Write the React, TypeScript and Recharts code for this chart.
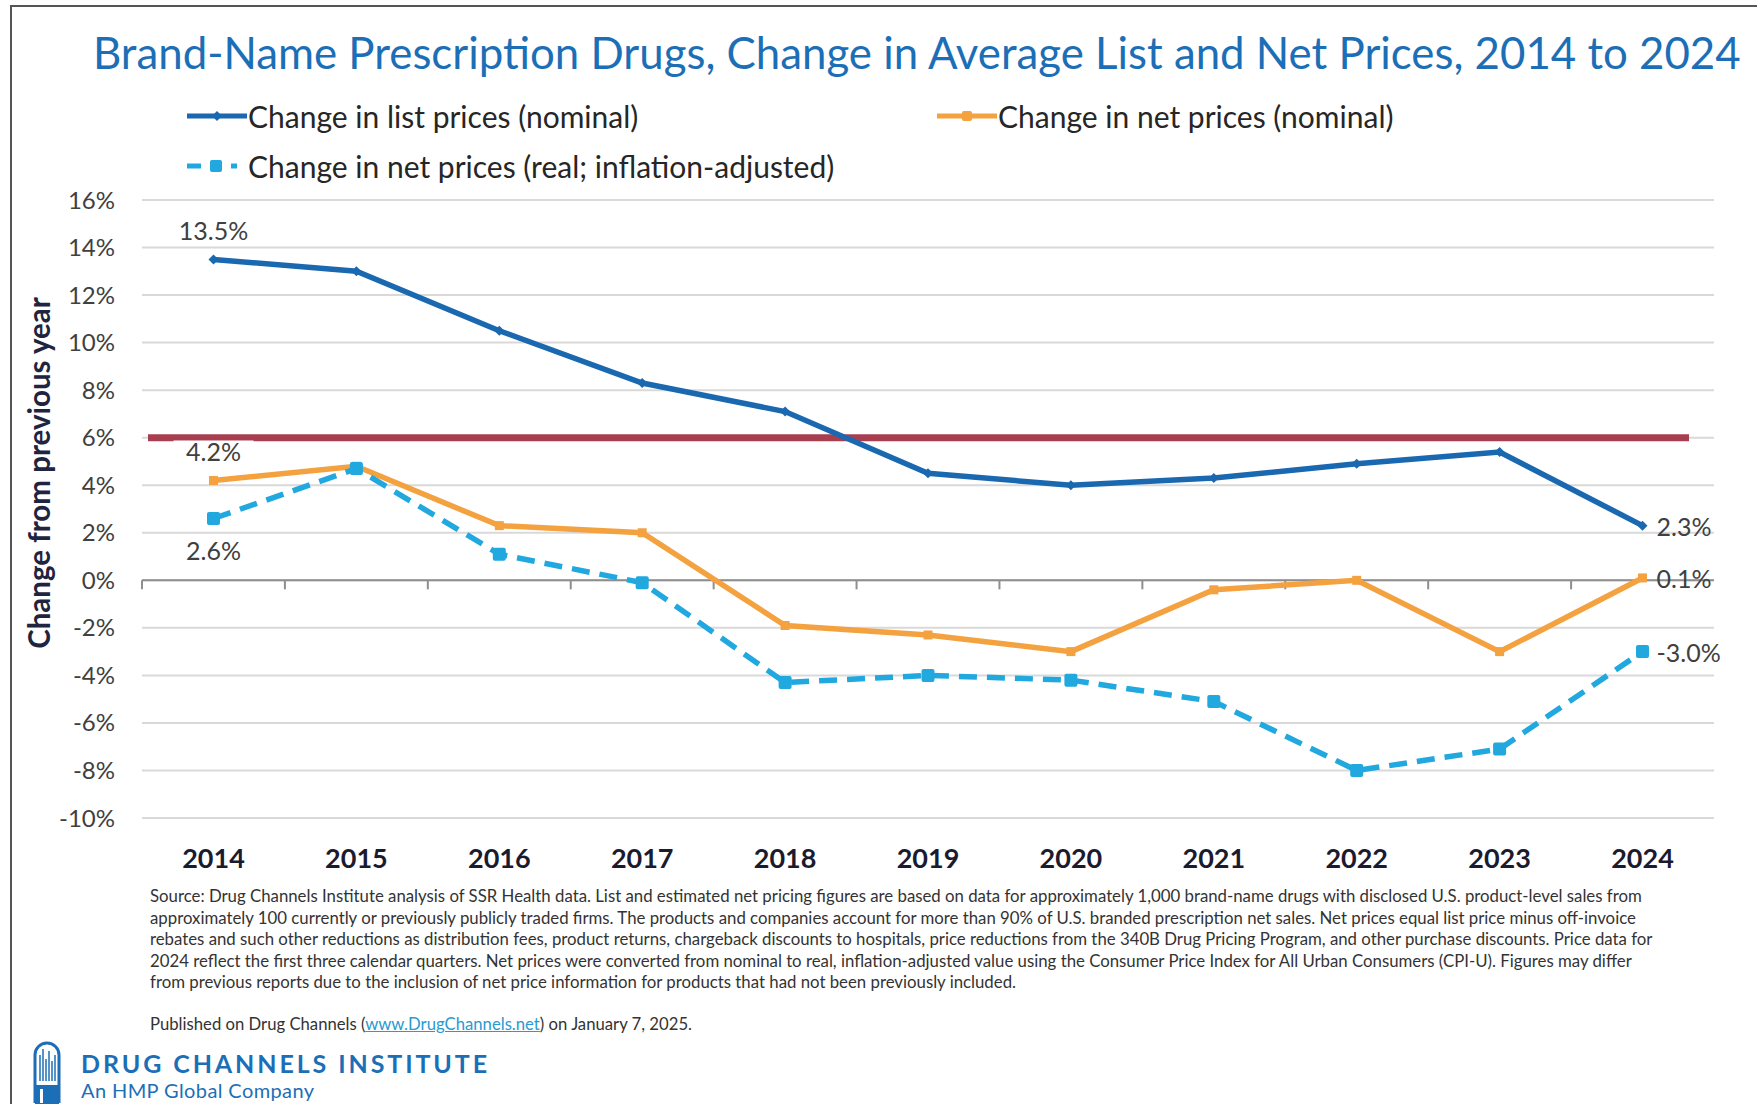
import React from 'react';
import { LineChart, Line, XAxis, YAxis, CartesianGrid, ReferenceLine, Legend, LabelList } from 'recharts';

// values (percent change from previous year)
const years = ['2014', '2015', '2016', '2017', '2018', '2019', '2020', '2021', '2022', '2023', '2024'];
const listPrices = [13.5, 13.0, 10.5, 8.3, 7.1, 4.5, 4.0, 4.3, 4.9, 5.4, 2.3];
const netNominal = [4.2, 4.8, 2.3, 2.0, -1.9, -2.3, -3.0, -0.4, 0.0, -3.0, 0.1];
const netReal = [2.6, 4.7, 1.1, -0.1, -4.3, -4.0, -4.2, -5.1, -8.0, -7.1, -3.0];
const yTicks = [-10, -8, -6, -4, -2, 0, 2, 4, 6, 8, 10, 12, 14, 16];
const targetLine = 6;

const seriesNames = {
  list: 'Change in list prices (nominal)',
  netNominal: 'Change in net prices (nominal)',
  netReal: 'Change in net prices (real; inflation-adjusted)',
};

const sourceLines = [
  'Source: Drug Channels Institute analysis of SSR Health data. List and estimated net pricing figures are based on data for approximately 1,000 brand-name drugs with disclosed U.S. product-level sales from',
  'approximately 100 currently or previously publicly traded firms. The products and companies account for more than 90% of U.S. branded prescription net sales. Net prices equal list price minus off-invoice',
  'rebates and such other reductions as distribution fees, product returns, chargeback discounts to hospitals, price reductions from the 340B Drug Pricing Program, and other purchase discounts. Price data for',
  '2024 reflect the first three calendar quarters. Net prices were converted from nominal to real, inflation-adjusted value using the Consumer Price Index for All Urban Consumers (CPI-U). Figures may differ',
  'from previous reports due to the inclusion of net price information for products that had not been previously included.',
];

const data = years.map((year, i) => ({
  year,
  list: listPrices[i],
  netNominal: netNominal[i],
  netReal: netReal[i],
}));

const FONT = 'Lato, "Open Sans", sans-serif';
const BLUE = '#1A68B0';
const ORANGE = '#F4A13F';
const LIGHT_BLUE = '#20A8DF';
const RED = '#A83F50';
const TITLE_BLUE = '#1C6FB6';

// plot area spans 1572px for 11 categories; half a category of padding on each side
const HALF_BAND = 71.5;

const diamondDot = (p: any) => {
  const { cx, cy, index } = p;
  const s = 5;
  return <polygon key={`dl-${index}`} points={`${cx},${cy - s} ${cx + s},${cy} ${cx},${cy + s} ${cx - s},${cy}`} fill={BLUE} />;
};
const orangeDot = (p: any) => <rect key={`dn-${p.index}`} x={p.cx - 4.5} y={p.cy - 4.5} width={9} height={9} fill={ORANGE} />;
const realDot = (p: any) => <rect key={`dr-${p.index}`} x={p.cx - 6.5} y={p.cy - 6.5} width={13} height={13} rx={2} fill={LIGHT_BLUE} />;

// first and last value labels, like the original
const endLabel = (firstPos: 'above' | 'below') => (props: any) => {
  const { index, value } = props;
  const x = props.x ?? props.viewBox?.x;
  const y = props.y ?? props.viewBox?.y;
  const last = years.length - 1;
  if (index !== 0 && index !== last) return null;
  const text = `${Number(value).toFixed(1)}%`;
  const style = { fontFamily: FONT, fontSize: 25, fill: '#404040' };
  if (index === 0) {
    const cy = firstPos === 'above' ? y - 29 : y + 31;
    return (
      <g key={`lbl-${index}`}>
        <rect x={x - 40} y={cy - 11} width={80} height={23} fill="#fff" />
        <text x={x} y={cy} textAnchor="middle" dominantBaseline="central" style={style}>{text}</text>
      </g>
    );
  }
  return (
    <text key={`lbl-${index}`} x={x + 14} y={y} dominantBaseline="central" style={style}>{text}</text>
  );
};

const ZeroAxis = (props: any) => {
  const { x1, x2, y1 } = props;
  const left = Math.min(x1, x2);
  const right = Math.max(x1, x2);
  const step = (right - left) / years.length;
  return (
    <g>
      <line x1={left} x2={right} y1={y1} y2={y1} stroke="#8E8E8E" strokeWidth={2} />
      {years.map((_, i) => (
        <line key={i} x1={left + i * step} x2={left + i * step} y1={y1} y2={y1 + 9} stroke="#8E8E8E" strokeWidth={2} />
      ))}
    </g>
  );
};

const TargetLine = (props: any) => {
  const { x1, x2, y1 } = props;
  const left = Math.min(x1, x2);
  const right = Math.max(x1, x2);
  return <line x1={left + 6} x2={right - 25} y1={y1} y2={y1} stroke={RED} strokeWidth={7} />;
};

const legendItems = [
  { key: 'list', name: seriesNames.list },
  { key: 'netNominal', name: seriesNames.netNominal },
  { key: 'netReal', name: seriesNames.netReal },
];

const LegendIcon = ({ kind }: { kind: string }) => {
  if (kind === 'list') {
    return (
      <svg width={60} height={20}>
        <line x1={0} x2={60} y1={10} y2={10} stroke={BLUE} strokeWidth={5} />
        <polygon points="30,5 35,10 30,15 25,10" fill={BLUE} />
      </svg>
    );
  }
  if (kind === 'netNominal') {
    return (
      <svg width={60} height={20}>
        <line x1={0} x2={60} y1={10} y2={10} stroke={ORANGE} strokeWidth={5} />
        <rect x={25} y={5} width={10} height={10} rx={2} fill={ORANGE} />
      </svg>
    );
  }
  return (
    <svg width={60} height={20}>
      <line x1={0} x2={14} y1={10} y2={10} stroke={LIGHT_BLUE} strokeWidth={5} />
      <rect x={23} y={4} width={12} height={12} rx={2} fill={LIGHT_BLUE} />
      <line x1={44} x2={50} y1={10} y2={10} stroke={LIGHT_BLUE} strokeWidth={5} />
    </svg>
  );
};

const ChartLegend = () => (
  <div
    style={{
      display: 'grid',
      gridTemplateColumns: '750px auto',
      rowGap: 16,
      fontFamily: FONT,
      fontSize: 30,
      lineHeight: '34px',
      color: '#262626',
    }}
  >
    {legendItems.map((it) => (
      <div key={it.key} style={{ display: 'flex', alignItems: 'center', whiteSpace: 'nowrap' }}>
        <LegendIcon kind={it.key} />
        <span style={{ marginLeft: 1 }}>{it.name}</span>
      </div>
    ))}
  </div>
);

const Logo = () => (
  <svg width={30} height={64} style={{ position: 'absolute', left: 32, top: 1041 }}>
    <path d="M3,62 L3,14 A12,12 0 0 1 27,14 L27,62" fill="none" stroke={TITLE_BLUE} strokeWidth={3} />
    {[8, 11, 14, 17, 20, 23].map((x, i) => (
      <line key={x} x1={x} x2={x} y1={[14, 8, 18, 10, 20, 14][i]} y2={40} stroke={TITLE_BLUE} strokeWidth={1.5} />
    ))}
    <rect x={3} y={44} width={24} height={20} fill={TITLE_BLUE} />
    <rect x={8} y={48} width={3} height={14} fill="#fff" />
  </svg>
);

export default function App() {
  return (
    <div
      style={{
        position: 'absolute',
        left: 0,
        top: 0,
        width: 1757,
        height: 1104,
        background: '#fff',
        overflow: 'hidden',
        fontFamily: FONT,
      }}
    >
      {/* cropped screenshot frame */}
      <div style={{ position: 'absolute', left: 10, top: 5, right: 0, bottom: 0, borderTop: '2px solid #555', borderLeft: '2px solid #555' }} />

      <div
        style={{
          position: 'absolute',
          left: 93,
          top: 26,
          fontSize: 43.8,
          lineHeight: '52px',
          color: TITLE_BLUE,
          whiteSpace: 'nowrap',
        }}
      >
        Brand-Name Prescription Drugs, Change in Average List and Net Prices, 2014 to 2024
      </div>

      <div
        style={{
          position: 'absolute',
          left: 39 - 200,
          top: 473 - 18,
          width: 400,
          height: 36,
          lineHeight: '36px',
          textAlign: 'center',
          transform: 'rotate(-90deg)',
          fontSize: 29.5,
          fontWeight: 700,
          color: '#1F2540',
          whiteSpace: 'nowrap',
        }}
      >
        Change from previous year
      </div>

      <div style={{ position: 'absolute', left: 0, top: 0 }}>
        <LineChart width={1757} height={900} data={data} margin={{ top: 200, right: 43, bottom: 22, left: 62 }}>
          <CartesianGrid vertical={false} stroke="#D9D9D9" strokeWidth={2} />
          <XAxis
            dataKey="year"
            height={60}
            axisLine={false}
            tickLine={false}
            tickSize={0}
            tickMargin={31}
            interval={0}
            padding={{ left: HALF_BAND, right: HALF_BAND }}
            tick={{ fontFamily: FONT, fontSize: 27, fontWeight: 700, fill: '#1B1B30' }}
          />
          <YAxis
            width={80}
            domain={[-10, 16]}
            ticks={yTicks}
            interval={0}
            axisLine={false}
            tickLine={false}
            tickSize={0}
            tickMargin={27}
            tickFormatter={(v: number) => `${v}%`}
            tick={{ fontFamily: FONT, fontSize: 24, fill: '#404040' }}
          />
          <ReferenceLine y={0} shape={ZeroAxis} />
          <ReferenceLine y={targetLine} shape={TargetLine} />
          <Legend
            layout="horizontal"
            verticalAlign="middle"
            align="center"
            content={() => <ChartLegend />}
            wrapperStyle={{ top: 99, left: 187, width: 1300, height: 90 }}
          />
          <Line
            dataKey="list"
            name={seriesNames.list}
            stroke={BLUE}
            strokeWidth={5.5}
            dot={diamondDot}
            activeDot={false}
            isAnimationActive={false}
          >
            <LabelList dataKey="list" content={endLabel('above')} />
          </Line>
          <Line
            dataKey="netNominal"
            name={seriesNames.netNominal}
            stroke={ORANGE}
            strokeWidth={5.5}
            dot={orangeDot}
            activeDot={false}
            isAnimationActive={false}
          >
            <LabelList dataKey="netNominal" content={endLabel('above')} />
          </Line>
          <Line
            dataKey="netReal"
            name={seriesNames.netReal}
            stroke={LIGHT_BLUE}
            strokeWidth={5.5}
            strokeDasharray="18 10"
            dot={realDot}
            activeDot={false}
            isAnimationActive={false}
          >
            <LabelList dataKey="netReal" content={endLabel('below')} />
          </Line>
        </LineChart>
      </div>

      <div style={{ position: 'absolute', left: 150, top: 885, fontSize: 16.8, lineHeight: '21.5px', color: '#333', whiteSpace: 'nowrap' }}>
        {sourceLines.map((line, i) => (
          <div key={i}>{line}</div>
        ))}
      </div>

      <div style={{ position: 'absolute', left: 150, top: 1014, fontSize: 16.7, lineHeight: '21.5px', color: '#333', whiteSpace: 'nowrap' }}>
        Published on Drug Channels (<span style={{ color: '#2B9AD0', textDecoration: 'underline' }}>www.DrugChannels.net</span>) on January 7, 2025.
      </div>

      <Logo />
      <div
        style={{
          position: 'absolute',
          left: 81,
          top: 1048,
          fontSize: 25,
          lineHeight: '30px',
          fontWeight: 700,
          letterSpacing: 2.9,
          color: TITLE_BLUE,
          whiteSpace: 'nowrap',
        }}
      >
        DRUG CHANNELS INSTITUTE
      </div>
      <div
        style={{
          position: 'absolute',
          left: 81,
          top: 1078,
          fontSize: 20,
          lineHeight: '24px',
          letterSpacing: 0.4,
          color: TITLE_BLUE,
          whiteSpace: 'nowrap',
        }}
      >
        An HMP Global Company
      </div>
    </div>
  );
}
